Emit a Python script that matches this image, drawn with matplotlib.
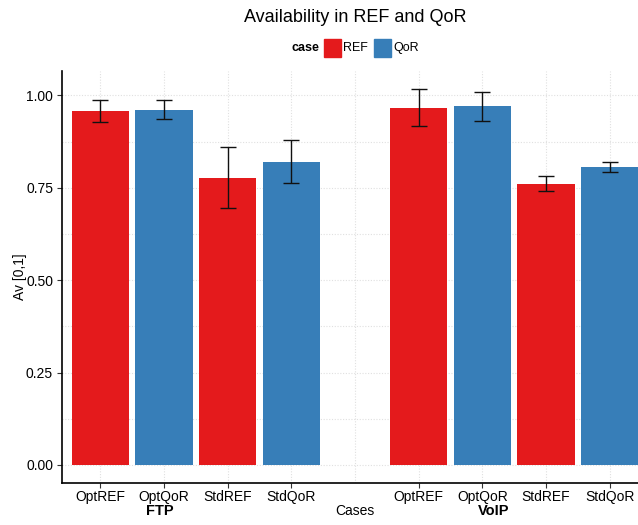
import matplotlib
matplotlib.use("Agg")
import matplotlib.pyplot as plt
import numpy as np

plt.rcParams['font.family'] = ['Liberation Sans', 'DejaVu Sans']

# Availability per traffic type and case
ftp_labels = ["OptREF", "OptQoR", "StdREF", "StdQoR"]
voip_labels = ["OptREF", "OptQoR", "StdREF", "StdQoR"]
ftp_values = [0.958, 0.961, 0.777, 0.820]
ftp_errors = [0.029, 0.026, 0.082, 0.058]
voip_values = [0.967, 0.970, 0.761, 0.807]
voip_errors = [0.050, 0.039, 0.020, 0.013]
cases = ["REF", "QoR", "REF", "QoR"]
colors = {"REF": "#E41A1C", "QoR": "#377EB8"}

fig = plt.figure(figsize=(6.38, 5.25), dpi=100)
W, H = 638, 525
left, right, top, bottom = 62, 648, 71, 483
ax = fig.add_axes([left / W, 1 - bottom / H, (right - left) / W, (bottom - top) / H])

x_ftp = np.arange(4)
x_voip = np.arange(5, 9)

for xs, vals, errs in [(x_ftp, ftp_values, ftp_errors), (x_voip, voip_values, voip_errors)]:
    bar_colors = [colors[c] for c in cases]
    ax.bar(xs, vals, width=0.9, color=bar_colors, zorder=2)
    ax.errorbar(xs, vals, yerr=errs, fmt="none", ecolor="#111111", elinewidth=1.0,
                capsize=6, capthick=1.0, zorder=3)

ax.set_xlim(-0.6, 8.6)
ax.set_ylim(-0.049, 1.066)

# Tick marks only under the bars; the middle slot keeps its grid line
tick_pos = np.concatenate([x_ftp, x_voip])
ax.set_xticks(tick_pos)
ax.set_xticklabels(ftp_labels + voip_labels, fontsize=10)
ax.set_xticks(np.arange(9), minor=True)
ax.tick_params(axis="x", which="minor", length=0)
ax.set_yticks([0, 0.25, 0.5, 0.75, 1.0])
ax.set_yticklabels(["0.00", "0.25", "0.50", "0.75", "1.00"], fontsize=10)
ax.set_yticks([0.125, 0.375, 0.625, 0.875], minor=True)
ax.tick_params(axis="y", which="minor", length=0)
ax.tick_params(axis="both", which="major", length=3.4, width=0.8, color="#333333")
ax.tick_params(axis="x", which="major", pad=1.5)
ax.tick_params(axis="y", which="major", pad=3)

ax.grid(True, which="both", linestyle=(0, (1, 1.5)), color="#e0e0e0", linewidth=0.8, zorder=0)
ax.set_axisbelow(True)
for s in ["top", "right"]:
    ax.spines[s].set_visible(False)
for s in ["left", "bottom"]:
    ax.spines[s].set_linewidth(1.2)
    ax.spines[s].set_color("black")

ax.set_ylabel("Av [0,1]", fontsize=10)
ax.yaxis.set_label_coords((27 - left) / (right - left), 0.5)

# Group names and axis title under the tick labels
label_y = 1 - 511 / H
def data_x(v):
    return ax.transData.transform((v, 0))[0] / fig.dpi / fig.get_figwidth()

fig.text(data_x(0.93), label_y, "FTP", ha="center", va="center", fontsize=10.5, fontweight="bold")
fig.text(data_x(6.18), label_y, "VoIP", ha="center", va="center", fontsize=10.5, fontweight="bold")
fig.text(data_x(4.0), label_y, "Cases", ha="center", va="center", fontsize=10)

fig.text(355 / W, 1 - 17 / H, "Availability in REF and QoR", ha="center", va="center", fontsize=13)

# Legend row
ly = 1 - 48 / H
fig.text(319 / W, ly, "case", ha="right", va="center", fontsize=9, fontweight="bold")
sq = 17
for x0, name in [(324, "REF"), (374, "QoR")]:
    fig.patches.append(matplotlib.patches.Rectangle((x0 / W, ly - sq / 2 / H), sq / W, sq / H,
                                                    transform=fig.transFigure, color=colors[name]))
    fig.text((x0 + sq + 2) / W, ly, name, ha="left", va="center", fontsize=9)

fig.savefig("out.png", dpi=100)
